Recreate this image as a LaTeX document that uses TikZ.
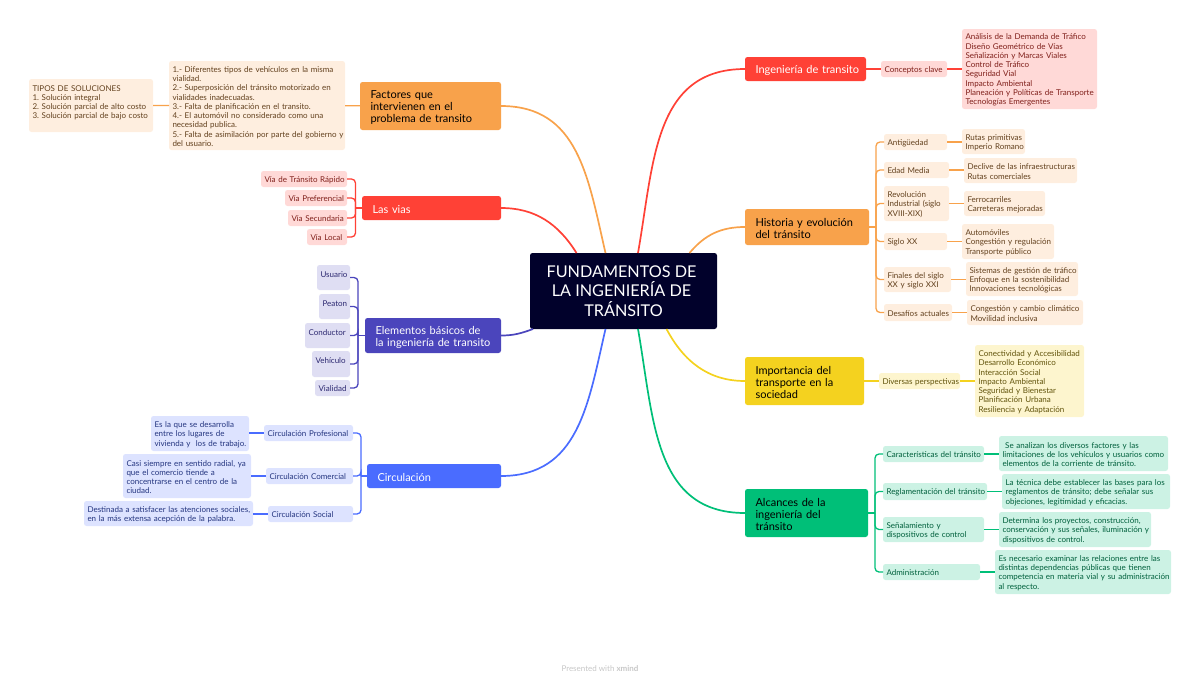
\documentclass[tikz,border=0pt]{standalone}
\usepackage{fontspec}
\setmainfont{Lato}
\usetikzlibrary{calc}

\definecolor{navyc}{HTML}{01012B}
\definecolor{orangec}{HTML}{F8A24B}
\definecolor{redc}{HTML}{FF4136}
\definecolor{indigoc}{HTML}{4B45BC}
\definecolor{bluec}{HTML}{4A6CFF}
\definecolor{yellowc}{HTML}{F4D21F}
\definecolor{greenc}{HTML}{00BF78}

\tikzset{
	wd/.style={text width=#1pt-7pt},
	ht/.style={minimum height=#1pt},
	bx/.style={anchor=north west, rounded corners=2.5pt, outer sep=0, inner xsep=3.5pt, inner ysep=0, align=left, font=\fontsize{8}{9.25}\selectfont,
		execute at begin node={\frenchspacing\hyphenpenalty=10000\rightskip=0pt plus 1fil minus 100pt\vrule height 1em width 0pt\relax}},
	topic/.style={bx, inner xsep=10.5pt, font=\fontsize{11}{12}\selectfont, text=black},
	oleaf/.style={bx, fill=orangec!18, text=orangec!40!black},
	rleaf/.style={bx, fill=redc!20, text=redc!50!black},
	ileaf/.style={bx, fill=indigoc!18, text=indigoc!60!black},
	bleaf/.style={bx, fill=bluec!19, text=bluec!50!black},
	yleaf/.style={bx, fill=yellowc!22, text=yellowc!40!black},
	gleaf/.style={bx, fill=greenc!20, text=greenc!50!black},
	branch/.style={line width=1.7pt},
	lnk/.style={line width=1.3pt},
	bendlnk/.style={lnk, rounded corners=4pt}
}

\begin{document}
\begin{tikzpicture}[x=1pt,y=-1pt]
	\useasboundingbox (0,0) rectangle (1200,683);

	\node[bx, fill=navyc, text=white, minimum width=187pt, ht=76, inner xsep=0, align=center, font=\fontsize{16.2}{19.5}\selectfont, execute at begin node={}] at (530,253) (root) {FUNDAMENTOS DE\kern4pt\\LA INGENIERÍA DE\kern4pt\\TRÁNSITO};

	% left side
	\node[topic, fill=orangec, text width=120pt, ht=48] at (360,82) (factores) {Factores que\\intervienen en el\\problema de transito};
	\node[oleaf, wd=176, ht=89] at (169,61) (causas) {1.- Diferentes tipos de vehículos en la misma\\vialidad.\\2.- Superposición del tránsito motorizado en\\vialidades inadecuadas.\\3.- Falta de planificación en el transito.\\4.- El automóvil no considerado como una\\necesidad publica.\\5.- Falta de asimilación por parte del gobierno y\\del usuario.};
	\node[oleaf, wd=124, ht=53] at (29,79) (tipos) {TIPOS DE SOLUCIONES\\1. Solución integral\\2. Solución parcial de alto costo\\3. Solución parcial de bajo costo\\\mbox{}};

	\node[topic, fill=redc, text=white, text width=118pt, ht=24] at (362,196) (vias) {Las vias};
	\node[rleaf, wd=86, ht=16] at (261,171) (rapido) {Vía de Tránsito Rápido};
	\node[rleaf, wd=62, ht=16] at (285,190) (prefer) {Vía Preferencial};
	\node[rleaf, wd=59, ht=16] at (288,210) (secund) {Vía Secundaria};
	\node[rleaf, wd=40, ht=16] at (307,229) (local) {Vía Local};

	\node[topic, fill=indigoc, text=white, text width=115pt, ht=35] at (365,318) (elementos) {Elementos básicos de\\la ingeniería de transito};
	\node[ileaf, wd=33, ht=25, text depth=9pt] at (317,265) (usuario) {Usuario};
	\node[ileaf, wd=31, ht=25, text depth=9pt] at (319,294) (peaton) {Peaton};
	\node[ileaf, wd=45, ht=25, text depth=9pt] at (305,323) (conductor) {Conductor};
	\node[ileaf, wd=38, ht=26, text depth=9pt] at (312,351) (vehiculo) {Vehículo};
	\node[ileaf, wd=35, ht=16] at (315,380) (vialidad) {Vialidad};

	\node[topic, fill=bluec, text=white, text width=113pt, ht=24] at (367,464) (circ) {Circulación};
	\node[bleaf, wd=89, ht=16] at (264,425) (profes) {Circulación Profesional};
	\node[bleaf, wd=87, ht=16] at (266,468) (comerc) {Circulación Comercial};
	\node[bleaf, wd=85, ht=16] at (268,506) (social) {Circulación Social};
	\node[bleaf, wd=98, ht=35] at (151,416) (profesd) {Es la que se desarrolla\\entre los lugares de\\vivienda y\ \ los de trabajo.};
	\node[bleaf, wd=128, ht=44] at (123,454) (comercd) {Casi siempre en sentido radial, ya\\que el comercio tiende a\\concentrarse en el centro de la\\ciudad.};
	\node[bleaf, wd=169, ht=25] at (84,501) (sociald) {Destinada a satisfacer las atenciones sociales,\\en la más extensa acepción de la palabra.};

	% right side
	\node[topic, fill=redc, text=white, text width=100pt, ht=24] at (745,57) (ingenieria) {Ingeniería de transito};
	\node[rleaf, wd=66, ht=16] at (881,61) (conceptos) {Conceptos clave};
	\node[rleaf, wd=135, ht=80] at (962,29) (conceptosd) {Análisis de la Demanda de Tráfico\\Diseño Geométrico de Vías\\Señalización y Marcas Viales\\Control de Tráfico\\Seguridad Vial\\Impacto Ambiental\\Planeación y Políticas de Transporte\\Tecnologías Emergentes};

	\node[topic, fill=orangec, text width=103pt, ht=36] at (745,209) (historia) {Historia y evolución\\del tránsito};
	\node[oleaf, wd=63, ht=16] at (884,134) (antig) {Antigüedad};
	\node[oleaf, wd=65, ht=16] at (884,162) (edad) {Edad Media};
	\node[oleaf, wd=65, ht=35] at (884,186) (revol) {Revolución\\Industrial (siglo\\XVIII-XIX)};
	\node[oleaf, wd=63, ht=17] at (884,233) (siglo) {Siglo XX};
	\node[oleaf, wd=67, ht=25] at (884,267) (finales) {Finales del siglo\\XX y siglo XXI};
	\node[oleaf, wd=68, ht=17] at (884,304) (desafios) {Desafíos actuales};
	\node[oleaf, wd=63, ht=25] at (962,129) (antigd) {Rutas primitivas\\Imperio Romano};
	\node[oleaf, wd=113, ht=25] at (964,158) (edadd) {Declive de las infraestructuras\\Rutas comerciales};
	\node[oleaf, wd=81, ht=25] at (964,191) (revold) {Ferrocarriles\\Carreteras mejoradas};
	\node[oleaf, wd=92, ht=35] at (962,224) (siglod) {Automóviles\\Congestión y regulación\\Transporte público};
	\node[oleaf, wd=112, ht=34] at (966,262) (finalesd) {Sistemas de gestión de tráfico\\Enfoque en la sostenibilidad\\Innovaciones tecnológicas};
	\node[oleaf, wd=116, ht=25] at (967,300) (desafiosd) {Congestión y cambio climático\\Movilidad inclusiva};

	\node[topic, fill=yellowc, text width=98pt, ht=48] at (745,357) (importancia) {Importancia del\\transporte en la\\sociedad};
	\node[yleaf, wd=81, ht=16] at (879,373) (diversas) {Diversas perspectivas};
	\node[yleaf, wd=109, ht=72] at (975,345) (diversasd) {Conectividad y Accesibilidad\\Desarrollo Económico\\Interacción Social\\Impacto Ambiental\\Seguridad y Bienestar\\Planificación Urbana\\Resiliencia y Adaptación};

	\node[topic, fill=greenc, text width=102pt, ht=48] at (745,489) (alcances) {Alcances de la\\ingeniería del\\tránsito};
	\node[gleaf, wd=101, ht=16] at (883,446) (caract) {Características del tránsito};
	\node[gleaf, wd=104, ht=17] at (883,483) (regla) {Reglamentación del tránsito};
	\node[gleaf, wd=101, ht=25] at (883,517) (senal) {Señalamiento y\\dispositivos de control};
	\node[gleaf, wd=97, ht=16] at (883,564) (admin) {Administración};
	\node[gleaf, wd=169, ht=35] at (999,436) (caractd) {\ Se analizan los diversos factores y las\\limitaciones de los vehículos y usuarios como\\elementos de la corriente de tránsito.};
	\node[gleaf, wd=168, ht=35] at (1002,474) (reglad) {La técnica debe establecer las bases para los\\reglamentos de tránsito; debe señalar sus\\objeciones, legitimidad y eficacias.};
	\node[gleaf, wd=152, ht=35] at (999,512) (senald) {Determina los proyectos, construcción,\\conservación y sus señales, iluminación y\\dispositivos de control.};
	\node[gleaf, wd=176, ht=44] at (995,550) (admind) {Es necesario examinar las relaciones entre las\\distintas dependencias públicas que tienen\\competencia en materia vial y su administración\\al respecto.};

	% branches from the root
	\draw[branch, orangec] ([xshift=-18pt]root.north) to[out=103,in=0,looseness=1.1] (factores.east);
	\draw[branch, redc] ([xshift=-47pt]root.north) to[out=122,in=0] (vias.east);
	\draw[branch, indigoc] ([xshift=3pt]root.south west) to[out=200,in=0] (elementos.east);
	\draw[branch, bluec] ([xshift=-18pt]root.south) to[out=-103,in=0,looseness=1.1] (circ.east);
	\draw[branch, redc] ([xshift=14.5pt]root.north) to[out=80,in=180,looseness=1.1] (ingenieria.west);
	\draw[branch, orangec] ([xshift=66pt]root.north) to[out=50,in=180] (historia.west);
	\draw[branch, yellowc] ([xshift=43pt]root.south) to[out=-62,in=180] (importancia.west);
	\draw[branch, greenc] ([xshift=14.5pt]root.south) to[out=-80,in=180,looseness=1.1] (alcances.west);

	% straight links
	\draw[lnk, orangec] (factores) -- (causas) (causas) -- (tipos);
	\draw[lnk, redc] (ingenieria) -- (conceptos) (conceptos) -- (conceptosd);
	\draw[lnk, yellowc] (importancia) -- (diversas) (diversas) -- (diversasd);
	\foreach \a/\b in {antig/antigd,edad/edadd,revol/revold,siglo/siglod,finales/finalesd,desafios/desafiosd}
		\draw[lnk, orangec] (\a) -- (\a -| \b.west);
	\foreach \a/\b in {caract/caractd,regla/reglad,senal/senald,admin/admind}
		\draw[lnk, greenc] (\a) -- (\a -| \b.west);
	\foreach \a/\b in {profes/profesd,comerc/comercd,social/sociald}
		\draw[lnk, bluec] (\a) -- (\a -| \b.east);

	% brackets
	\draw[lnk, redc] (vias.west) -- ++(-6.5,0) coordinate (viasj);
	\foreach \n in {rapido,prefer,secund,local}
		\draw[bendlnk, redc] (viasj) |- (\n.east);
	\draw[lnk, indigoc] (elementos.west) -- ++(-7,0) coordinate (elemj);
	\foreach \n in {usuario,peaton,conductor,vehiculo,vialidad}
		\draw[bendlnk, indigoc] (elemj) |- (\n.east);
	\draw[lnk, bluec] (circ.west) -- ++(-6,0) coordinate (circj);
	\foreach \n in {profes,comerc,social}
		\draw[bendlnk, bluec] (circj) |- (\n.east);
	\draw[lnk, orangec] (historia.east) -- ++(7,0) coordinate (histj);
	\foreach \n in {antig,edad,revol,siglo,finales,desafios}
		\draw[bendlnk, orangec] (histj) |- (\n.west);
	\draw[lnk, greenc] (alcances.east) -- ++(7,0) coordinate (alcj);
	\foreach \n in {caract,regla,senal,admin}
		\draw[bendlnk, greenc] (alcj) |- (\n.west);

	\node[anchor=center, text=black!22, font=\fontsize{8}{9}\selectfont] at (600,669) (footer) {Presented with \textbf{xmind}};
\end{tikzpicture}
\end{document}
